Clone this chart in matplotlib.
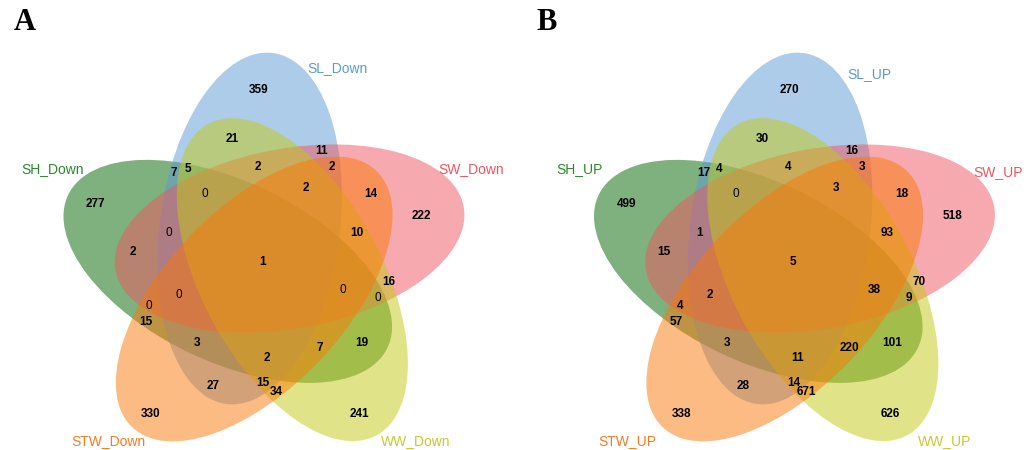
import numpy as np
import matplotlib
matplotlib.use('Agg')
import matplotlib.pyplot as plt
from matplotlib.patches import Ellipse

plt.rcParams['font.family'] = ['Liberation Sans', 'DejaVu Sans']

##------------------------------------------
# five sets, counter-clockwise from the top petal
sets_down = ['SL_Down', 'SH_Down', 'STW_Down', 'WW_Down', 'SW_Down']
sets_up = ['SL_UP', 'SH_UP', 'STW_UP', 'WW_UP', 'SW_UP']

# region counts (same region order as region_xy further down)
down_counts = [359, 21, 11, 2, 2, 2, 14, 222, 7, 5, 0, 277, 0, 10, 2, 1,
               0, 0, 15, 0, 16, 0, 3, 2, 7, 19, 27, 15, 34, 330, 241]
up_counts = [270, 30, 16, 3, 4, 3, 18, 518, 17, 4, 0, 499, 1, 93, 15, 5,
             2, 4, 57, 38, 70, 9, 3, 11, 220, 101, 28, 14, 671, 338, 626]

fill = ['#5B9BD5', '#006400', '#FA7808', '#C5C915', '#EF555F']
text_col = ['#5B9BD5', '#2A8A2A', '#FA7A20', '#C8C832', '#EF555F']
draw_order = [1, 0, 4, 3, 2]

# ellipse geometry (pixels, y up, origin at the middle of the diagram)
A_axis, B_axis = 177., 90.
dist, skew = 35., 29.5
tip0 = 82.4
# small per-ellipse shifts, the layout is not perfectly symmetric
nudge = [(0, 0), (0, -8), (0, -4), (0, 0), (0, 0)]

# centre of every region label
region_xy = [(-3.7, 171), (-31, 122), (59, 110), (69, 94.3), (-5, 94.3),
             (43, 73.3), (108.3, 66.7), (159, 45.3), (-89.4, 87.7),
             (-74.4, 92), (-57.7, 66.7), (-167, 57), (-93.4, 28.3),
             (94, 28.3), (-129.4, 8.7), (0, -0.7), (-83.4, -34),
             (-113.4, -44.7), (-116.7, -61.3), (80.6, -29), (125.6, -21.3),
             (115.6, -36.7), (-66, -82.3), (4.6, -97.3), (56.6, -86.7),
             (99, -82.3), (-50, -124.7), (0.6, -122.3), (13.3, -131.3),
             (-112, -153.3), (96.6, -153.3)]

name_xy_down = [(74.3, 192.5), (-209.7, 92), (-154.7, -180), (153.3, -180), (208.8, 92)]
name_xy_up = [(75.8, 187), (-213.2, 92), (-166.2, -180), (151.8, -180), (204.8, 89)]

W, H = 1034, 450
fig = plt.figure(figsize=(W / 100., H / 100.), dpi=100)

panels = [(0.0, 262.7, 'A', 24.5, sets_down, down_counts, name_xy_down),
          (0.5, 793.2, 'B', 547., sets_up, up_counts, name_xy_up)]
cy = 261.

for left, cx, letter, lx, names, counts, name_xy in panels:
    ax = fig.add_axes([left, 0, 0.5, 1])
    x0 = left * W - cx
    ax.set_xlim(x0, x0 + W / 2.)
    ax.set_ylim(-(H - cy), cy)
    ax.axis('off')

    for k in draw_order:
        tau = tip0 + 72 * k
        phi = np.radians(tau + skew)
        c = (dist * np.cos(phi) + nudge[k][0], dist * np.sin(phi) + nudge[k][1])
        ax.add_patch(Ellipse(c, 2 * A_axis, 2 * B_axis, angle=tau,
                             facecolor=fill[k], alpha=0.5, lw=0))

    for (x, y), v in zip(region_xy, counts):
        ax.text(x, y, str(v), ha='center', va='center', fontsize=8.5,
                fontweight='bold' if v else 'normal', color='black')

    for k in range(5):
        ax.text(name_xy[k][0], name_xy[k][1], names[k], ha='center',
                va='center', fontsize=10, color=text_col[k])

    fig.text(lx / W, 1 - 23. / H, letter, ha='center', va='center',
             family='Liberation Serif', fontweight='bold', fontsize=22)

fig.savefig('out.png', dpi=100)
